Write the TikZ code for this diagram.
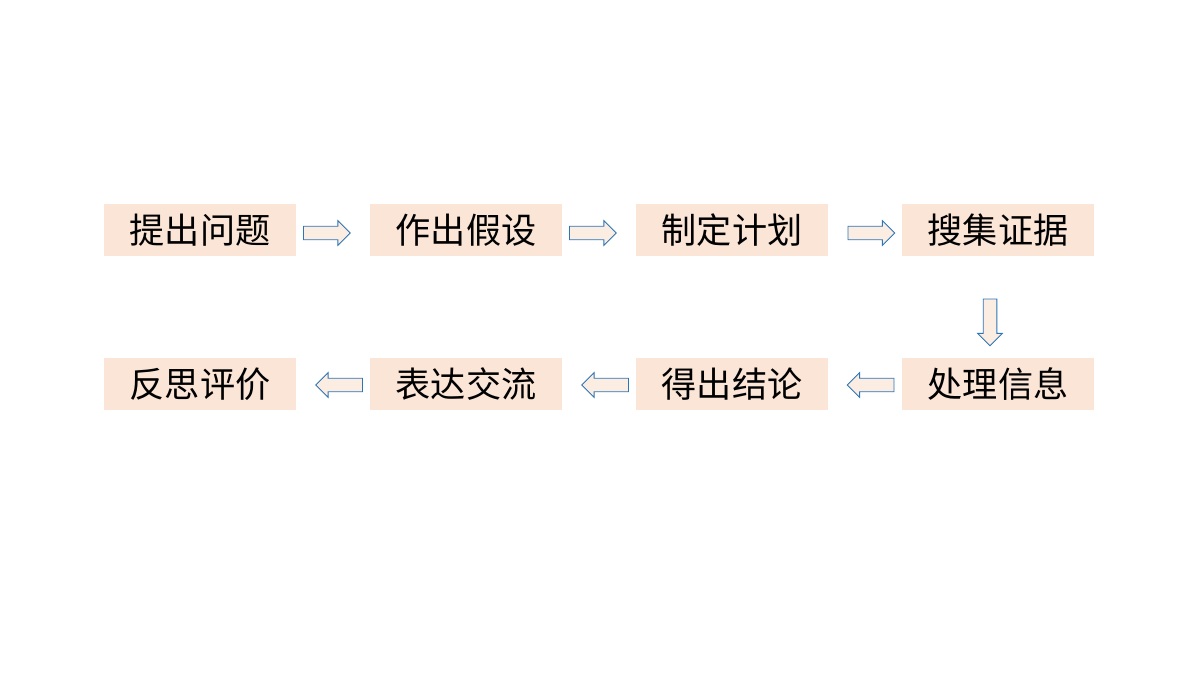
\documentclass[tikz,border=0pt]{standalone}
\usepackage{fontspec}
\setmainfont{Noto Sans CJK SC}
\usetikzlibrary{shapes.arrows,positioning}
\definecolor{steppeach}{RGB}{251,229,214}
\definecolor{arrowblue}{RGB}{46,117,182}

\begin{document}
\begin{tikzpicture}[x=0.025cm,y=-0.025cm,
  stepbox/.style={fill=steppeach, minimum width=4.8cm, minimum height=1.28cm, inner sep=0pt, font=\fontsize{25}{30}\selectfont},
  flowarrow/.style={single arrow, draw=arrowblue, line width=0.6pt, fill=steppeach!70, minimum width=0.6cm, minimum height=1.17cm, inner sep=0.16cm, single arrow head extend=0.14cm, single arrow tip angle=90}]
\useasboundingbox (0,0) rectangle (1200,675);

% Top row
\node[stepbox] (ask) at (200,230) {提出问题};
\node[stepbox] (guess) at (466,230) {作出假设};
\node[stepbox] (plan) at (732,230) {制定计划};
\node[stepbox] (collect) at (998,230) {搜集证据};

% Bottom row
\node[stepbox] (reflect) at (200,384) {反思评价};
\node[stepbox] (share) at (466,384) {表达交流};
\node[stepbox] (conclude) at (732,384) {得出结论};
\node[stepbox] (process) at (998,384) {处理信息};

% Arrows
\node[flowarrow] (a1) at (323.5,233) {};
\node[flowarrow] (a2) at (589.5,233) {};
\node[flowarrow] (a3) at (868,233) {};
\node[flowarrow, shape border rotate=270] (a4) at (990,319) {};
\node[flowarrow, shape border rotate=180] (a5) at (874,385) {};
\node[flowarrow, shape border rotate=180] (a6) at (608.5,385) {};
\node[flowarrow, shape border rotate=180] (a7) at (342.5,385) {};
\end{tikzpicture}
\end{document}
